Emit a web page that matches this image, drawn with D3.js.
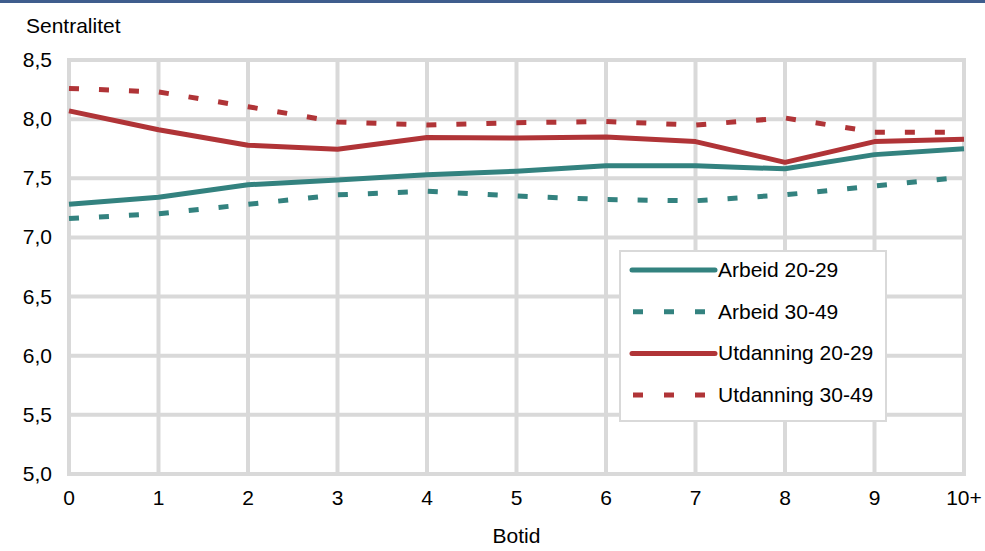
<!DOCTYPE html>
<html>
<head>
<meta charset="utf-8">
<script src="https://cdn.jsdelivr.net/npm/d3@7"></script>
<style>
  body { margin: 0; background: #fff; }
  svg { display: block; font-family: 'Liberation Sans', Arial, sans-serif; }
</style>
</head>
<body>
<div id="chart"></div>
<script>
const botid = ['0', '1', '2', '3', '4', '5', '6', '7', '8', '9', '10+'];
const yTicks = [5.0, 5.5, 6.0, 6.5, 7.0, 7.5, 8.0, 8.5];

const arbeid2029    = [7.28, 7.34, 7.445, 7.485, 7.53, 7.56, 7.605, 7.605, 7.58, 7.70, 7.75];
const arbeid3049    = [7.16, 7.20, 7.28, 7.36, 7.39, 7.35, 7.32, 7.31, 7.36, 7.435, 7.51];
const utdanning2029 = [8.07, 7.91, 7.78, 7.745, 7.845, 7.84, 7.85, 7.81, 7.635, 7.81, 7.83];
const utdanning3049 = [8.26, 8.23, 8.105, 7.976, 7.95, 7.97, 7.98, 7.95, 8.01, 7.89, 7.89];

const seriesNames = ['Arbeid 20-29', 'Arbeid 30-49', 'Utdanning 20-29', 'Utdanning 30-49'];

const width = 985;
const height = 551;
const margin = { top: 60, right: 21, bottom: 77, left: 69 };

const teal = '#33827f';
const red = '#b03437';
const grid = '#d9d9d9';

const series = [
    { name: seriesNames[0], values: arbeid2029, color: teal, dash: null },
    { name: seriesNames[1], values: arbeid3049, color: teal, dash: '10,20' },
    { name: seriesNames[2], values: utdanning2029, color: red, dash: null },
    { name: seriesNames[3], values: utdanning3049, color: red, dash: '10,20' }
];

const x = d3.scalePoint()
    .domain(botid)
    .range([margin.left, width - margin.right]);

const y = d3.scaleLinear()
    .domain([5, 8.5])
    .range([height - margin.bottom, margin.top]);

const svg = d3.select('#chart')
    .append('svg')
    .attr('width', width)
    .attr('height', height);

// top band
svg.append('rect')
    .attr('x', 0).attr('y', 0)
    .attr('width', width).attr('height', 3)
    .attr('fill', '#3f5d8d');

// grid
svg.append('g')
    .selectAll('line')
    .data(yTicks)
    .join('line')
    .attr('x1', margin.left).attr('x2', width - margin.right)
    .attr('y1', d => y(d)).attr('y2', d => y(d))
    .attr('stroke', grid).attr('stroke-width', 4);

svg.append('g')
    .selectAll('line')
    .data(botid)
    .join('line')
    .attr('x1', d => x(d)).attr('x2', d => x(d))
    .attr('y1', y(8.5) - 2).attr('y2', y(5) + 2)
    .attr('stroke', grid).attr('stroke-width', 4);

// y axis labels
svg.append('g')
    .selectAll('text')
    .data(yTicks)
    .join('text')
    .attr('x', 52)
    .attr('y', d => y(d) + 7)
    .attr('text-anchor', 'end')
    .attr('font-size', '21px')
    .attr('fill', '#000')
    .text(d => d3.format('.1f')(d).replace('.', ','));

// x axis labels
svg.append('g')
    .selectAll('text')
    .data(botid)
    .join('text')
    .attr('x', d => x(d))
    .attr('y', 505)
    .attr('text-anchor', 'middle')
    .attr('font-size', '21px')
    .attr('fill', '#000')
    .text(d => d);

svg.append('text')
    .attr('x', 26).attr('y', 33)
    .attr('font-size', '21px')
    .text('Sentralitet');

svg.append('text')
    .attr('x', (margin.left + width - margin.right) / 2)
    .attr('y', 543)
    .attr('text-anchor', 'middle')
    .attr('font-size', '21px')
    .text('Botid');

// lines
const line = d3.line()
    .x((d, i) => x(botid[i]))
    .y(d => y(d));

svg.append('g')
    .selectAll('path')
    .data(series)
    .join('path')
    .attr('d', d => line(d.values))
    .attr('fill', 'none')
    .attr('stroke', d => d.color)
    .attr('stroke-width', 5)
    .attr('stroke-dasharray', d => d.dash)
    .attr('stroke-linejoin', 'round');

// legend
const legend = svg.append('g')
    .attr('transform', 'translate(620, 251)');

legend.append('rect')
    .attr('width', 266).attr('height', 170)
    .attr('fill', '#fff')
    .attr('stroke', grid).attr('stroke-width', 2);

const entries = legend.selectAll('g')
    .data(series)
    .join('g')
    .attr('transform', (d, i) => `translate(0, ${19 + i * 41.7})`);

entries.append('line')
    .attr('x1', d => d.dash ? 13 : 12).attr('x2', 95)
    .attr('stroke', d => d.color)
    .attr('stroke-width', 5)
    .attr('stroke-linecap', d => d.dash ? 'butt' : 'round')
    .attr('stroke-dasharray', d => d.dash ? '10,21' : null);

entries.append('text')
    .attr('x', 98)
    .attr('y', 7)
    .attr('font-size', '21px')
    .text(d => d.name);
</script>
</body>
</html>
